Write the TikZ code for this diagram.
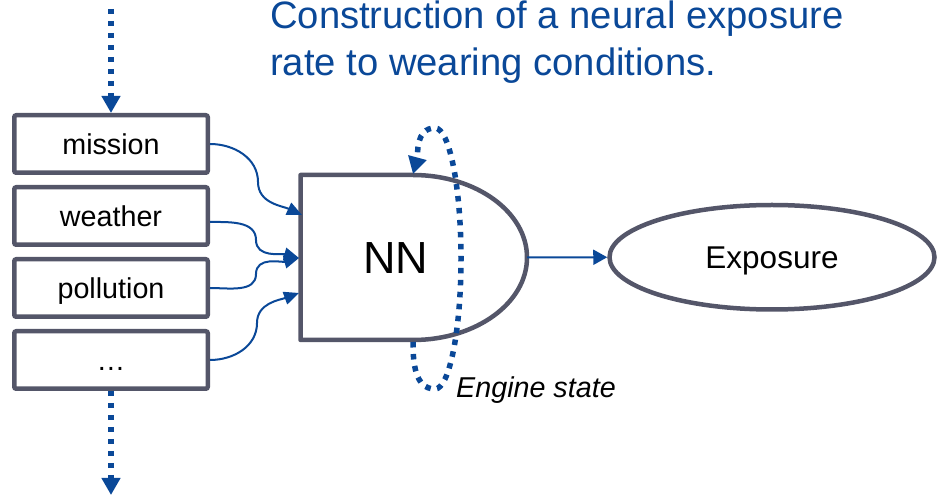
\documentclass[tikz,border=0pt]{standalone}
\usepackage{fontspec}
\setmainfont{Liberation Sans}
\usetikzlibrary{arrows.meta,shapes.geometric}
\definecolor{flowblue}{HTML}{0A4898}
\definecolor{framegray}{HTML}{545669}
\begin{document}
\begin{tikzpicture}[x=1pt,y=1pt,
  inbox/.style={draw=framegray,line width=4.5pt,rounded corners=2pt,
    minimum width=193.5pt,minimum height=57.5pt,inner sep=0pt,
    font=\fontsize{28.7}{34}\selectfont,text height=20.5pt,text depth=0pt},
  feed/.style={draw=flowblue,line width=2pt,-{Triangle[length=15pt,width=13pt]}},
  dotflow/.style={draw=flowblue,line width=5.5pt,dash pattern=on 5.5pt off 6.5pt,
    -{Triangle[length=17pt,width=18pt]}},
  titletext/.style={anchor=base west,inner sep=0pt,text=flowblue,
    font=\fontsize{38.2}{46}\selectfont}
]
\useasboundingbox (0,0) rectangle (937,498);

% heading
\node[titletext] (title1) at (270,469) {Construction of a neural exposure};
\node[titletext] (title2) at (270,422) {rate to wearing conditions.};

% stacked input boxes
\node[inbox] (mission)   at (111,354) {mission};
\node[inbox] (weather)   at (111,282) {weather};
\node[inbox] (pollution) at (111,210) {pollution};
\node[inbox] (dots)      at (111,138) {…};

% neural network block: flat left side, rounded right side
\draw[framegray,line width=4.5pt,line join=round]
  (300.5,158) -- (300.5,323) -- (413,323)
  arc[start angle=90,end angle=-90,x radius=114,y radius=82.5] -- cycle;
\node[inner sep=0pt,font=\fontsize{45}{54}\selectfont] (nn) at (395.5,239.7) {NN};

% output ellipse
\node[ellipse,draw=framegray,line width=4.5pt,minimum width=325pt,
  minimum height=104.5pt,inner sep=0pt,font=\fontsize{31.5}{38}\selectfont,
  text height=22.6pt,text depth=0pt] (exposure) at (772,240.75) {Exposure};

% connection points on the block
\coordinate (in1) at (302,283);
\coordinate (in2) at (299,240);
\coordinate (in3) at (299,205);
\coordinate (nnout) at (527,240.5);
\coordinate (srcTop) at (111,489);
\coordinate (sinkBottom) at (111,3);
\coordinate (loopstart) at (413,156);
\coordinate (loopend) at (413,324);

% inputs into the network
\draw[feed] (mission.east) to[out=0,in=90] ++(48,-38) to[out=-90,in=155] (in1);
\draw[feed] ([yshift=-6pt]weather.east) to[out=0,in=90] ++(46,-18) to[out=-90,in=165] (in2);
\draw[feed] (pollution.east) to[out=0,in=-90] ++(46,14) to[out=90,in=195] (in2);
\draw[feed] (dots.east) to[out=0,in=-90] ++(47,37) to[out=90,in=200] (in3);

% network output
\draw[feed,-{Triangle[length=14pt,width=15pt]}] (nnout) -- (exposure.west);

% data stream through the input stack
\draw[dotflow] (srcTop) -- (mission.north);
\draw[dotflow] (dots.south) -- (sinkBottom);

% recurrent engine state loop
\draw[dotflow] (loopstart) to[out=-90,in=180] (435,109)
  arc[start angle=-90,end angle=90,x radius=26,y radius=130.5]
  to[out=180,in=75] (loopend);
\node[anchor=base west,inner sep=0pt,font=\itshape\fontsize{28.7}{34}\selectfont]
  (engine) at (456,100) {Engine state};
\end{tikzpicture}
\end{document}
